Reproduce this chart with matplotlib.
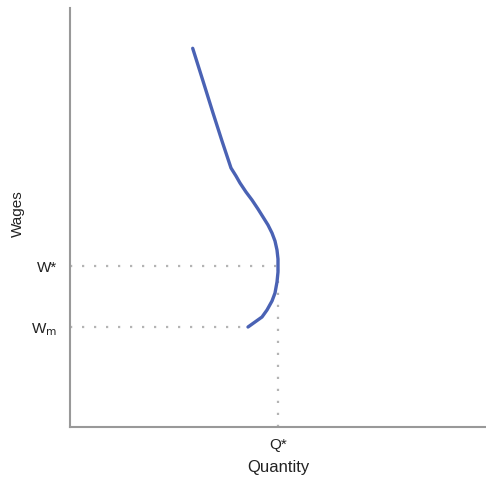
import matplotlib
matplotlib.use("Agg")
import matplotlib.pyplot as plt

plt.rcParams['font.family'] = ['Liberation Sans', 'DejaVu Sans']

# Curve (data units, origin at the axes corner)
curve_q = [122.7, 133, 143, 152, 161, 166, 170, 176, 182, 188, 193, 198, 202, 205, 207, 208, 208, 207, 205, 202, 197, 192, 185, 178]
curve_w = [378.7, 346, 314, 286, 259, 251, 244, 235, 227, 218, 210, 202, 194, 186, 177, 168, 155, 145, 134, 126, 117, 110, 105, 100]

w_star = 161
w_min = 100
q_star = 208

tick_x_labels = ["Q*"]
tick_y_labels = ["W$_{\\mathrm{m}}$", "W*"]

fig = plt.figure(figsize=(4.86, 4.79), dpi=100)
ax = fig.add_axes([70 / 486, 52 / 479, 416 / 486, 419 / 479])

dot_style = dict(color="#b4b4b4", linestyle=(0, (1, 4.4)), linewidth=1.6)
ax.plot([0, q_star], [w_star, w_star], **dot_style)
ax.plot([0, curve_q[-1]], [w_min, w_min], **dot_style)
ax.plot([q_star, q_star], [0, w_star], **dot_style)

ax.plot(curve_q, curve_w, color="#4a62b4", linewidth=2.4,
        solid_capstyle="round", solid_joinstyle="round")

ax.set_xlim(0, 416)
ax.set_ylim(0, 419)

ax.set_xticks([q_star])
ax.set_xticklabels(tick_x_labels)
ax.set_yticks([w_min, w_star])
ax.set_yticklabels(tick_y_labels)
ax.tick_params(length=0, labelsize=11, colors="#222222")
ax.tick_params(axis="x", pad=8)
ax.tick_params(axis="y", pad=9)

ax.set_xlabel("Quantity", fontsize=12, color="#222222", labelpad=6)
ax.set_ylabel("Wages", fontsize=11, color="#222222", labelpad=5, y=0.51)

for side in ["top", "right"]:
    ax.spines[side].set_visible(False)
for side in ["left", "bottom"]:
    ax.spines[side].set_color("#999999")
    ax.spines[side].set_linewidth(1.5)

fig.savefig("out.png", dpi=100)
